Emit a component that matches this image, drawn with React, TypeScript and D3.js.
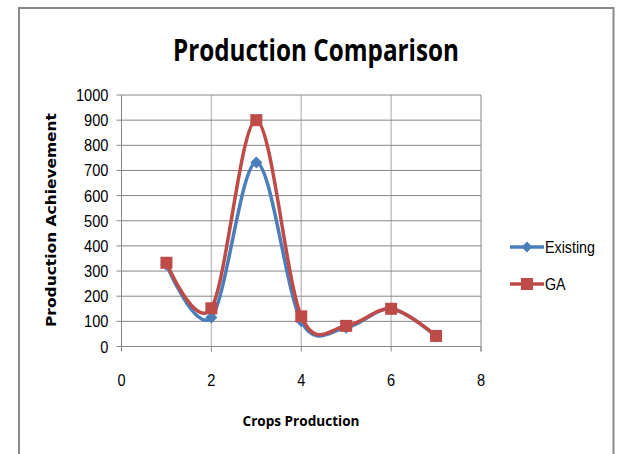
import React from "react";
import * as d3 from "d3";

const xValues = [1, 2, 3, 4, 5, 6, 7];
const existing = [325, 115, 732, 100, 75, 150, 40];
const ga = [333, 152, 900, 120, 82, 150, 42];
const yTicks = [0, 100, 200, 300, 400, 500, 600, 700, 800, 900, 1000];
const xTicks = [0, 2, 4, 6, 8];
const seriesNames = ["Existing", "GA"];

const W = 622;
const H = 454;
const left = 121.5;
const right = 481;
const top = 95;
const bottom = 346.5;
const BLUE = "#4A7EBB";
const RED = "#BE4B48";
const FONT = "'Open Sans', Arial, sans-serif";
const TICKFONT = "'Liberation Sans', Arial, sans-serif";

function Narrow({
  x,
  y,
  anchor,
  size,
  sx,
  children,
}: {
  x: number;
  y: number;
  anchor: string;
  size: number;
  sx: number;
  children: React.ReactNode;
}) {
  return (
    <g transform={`translate(${x},${y}) scale(${sx},1)`}>
      <text textAnchor={anchor} fontFamily={TICKFONT} fontSize={size} fill="#000">
        {children}
      </text>
    </g>
  );
}

export default function App() {
  const x = d3.scaleLinear().domain([0, 8]).range([left, right]);
  const y = d3.scaleLinear().domain([0, 1000]).range([bottom, top]);
  const line = d3
    .line<number>()
    .x((_, i) => x(xValues[i]))
    .y((d) => y(d))
    .curve(d3.curveCardinal.tension(0));

  const diamond = (cx: number, cy: number, r: number) =>
    `M${cx},${cy - r}L${cx + r},${cy}L${cx},${cy + r}L${cx - r},${cy}Z`;

  return (
    <svg
      width={W}
      height={H}
      style={{ position: "absolute", left: 0, top: 0, background: "#fff" }}
    >
      <rect x={0} y={0} width={W} height={H} fill="#fff" />
      <path
        d={`M19,${H + 2}V8H613.5V${H + 2}`}
        fill="none"
        stroke="#888"
        strokeWidth={2}
      />
      <text
        x={316}
        y={61}
        textAnchor="middle"
        fontFamily={FONT}
        fontWeight="bold"
        fontSize={31}
        textLength={286}
        lengthAdjust="spacingAndGlyphs"
        fill="#000"
      >
        Production Comparison
      </text>
      {/* vertical gridlines */}
      {xTicks.slice(1, -1).map((t) => (
        <line
          key={"vx" + t}
          x1={x(t)}
          x2={x(t)}
          y1={top}
          y2={bottom}
          stroke="#c4c4c4"
          strokeWidth={1.5}
        />
      ))}
      {/* horizontal gridlines */}
      {yTicks.map((t) => (
        <line
          key={"h" + t}
          x1={left - 5}
          x2={right}
          y1={y(t)}
          y2={y(t)}
          stroke="#868686"
          strokeWidth={1}
        />
      ))}
      <line x1={left} x2={left} y1={top} y2={bottom} stroke="#868686" strokeWidth={1} />
      <line x1={right} x2={right} y1={top} y2={bottom + 5} stroke="#868686" strokeWidth={1} />
      {xTicks.map((t) => (
        <line
          key={"xt" + t}
          x1={x(t)}
          x2={x(t)}
          y1={bottom}
          y2={bottom + 5}
          stroke="#868686"
          strokeWidth={1}
        />
      ))}
      {yTicks.map((t) => (
        <Narrow key={"yl" + t} x={108.5} y={y(t) + 6} anchor="end" size={17} sx={0.86}>
          {t}
        </Narrow>
      ))}
      {xTicks.map((t) => (
        <Narrow key={"xl" + t} x={x(t)} y={386} anchor="middle" size={17} sx={0.86}>
          {t}
        </Narrow>
      ))}
      <text
        x={301}
        y={426}
        textAnchor="middle"
        fontFamily={FONT}
        fontWeight="bold"
        fontSize={15}
        textLength={117}
        lengthAdjust="spacingAndGlyphs"
        fill="#000"
      >
        Crops Production
      </text>
      <text
        transform={`translate(56,220) rotate(-90)`}
        textAnchor="middle"
        fontFamily="'DejaVu Sans', Verdana, sans-serif"
        fontWeight="bold"
        fontSize={13.5}
        textLength={214}
        lengthAdjust="spacingAndGlyphs"
        fill="#000"
      >
        Production Achievement
      </text>
      {/* series */}
      <path d={line(existing) || ""} fill="none" stroke={BLUE} strokeWidth={3.5} />
      {existing.map((v, i) => (
        <path key={"ed" + i} d={diamond(x(xValues[i]), y(v), 6)} fill={BLUE} />
      ))}
      <path d={line(ga) || ""} fill="none" stroke={RED} strokeWidth={3.5} />
      {ga.map((v, i) => (
        <rect
          key={"gs" + i}
          x={x(xValues[i]) - 6}
          y={y(v) - 6}
          width={12}
          height={12}
          fill={RED}
        />
      ))}
      {/* legend */}
      <line x1={510} x2={544} y1={247} y2={247} stroke={BLUE} strokeWidth={3.5} />
      <path d={diamond(527, 247, 5.5)} fill={BLUE} />
      <Narrow x={545} y={253} anchor="start" size={17} sx={0.84}>
        {seriesNames[0]}
      </Narrow>
      <line x1={510} x2={544} y1={284} y2={284} stroke={RED} strokeWidth={3.5} />
      <rect x={521} y={278} width={12} height={12} fill={RED} />
      <Narrow x={545} y={290} anchor="start" size={17} sx={0.84}>
        {seriesNames[1]}
      </Narrow>
    </svg>
  );
}
